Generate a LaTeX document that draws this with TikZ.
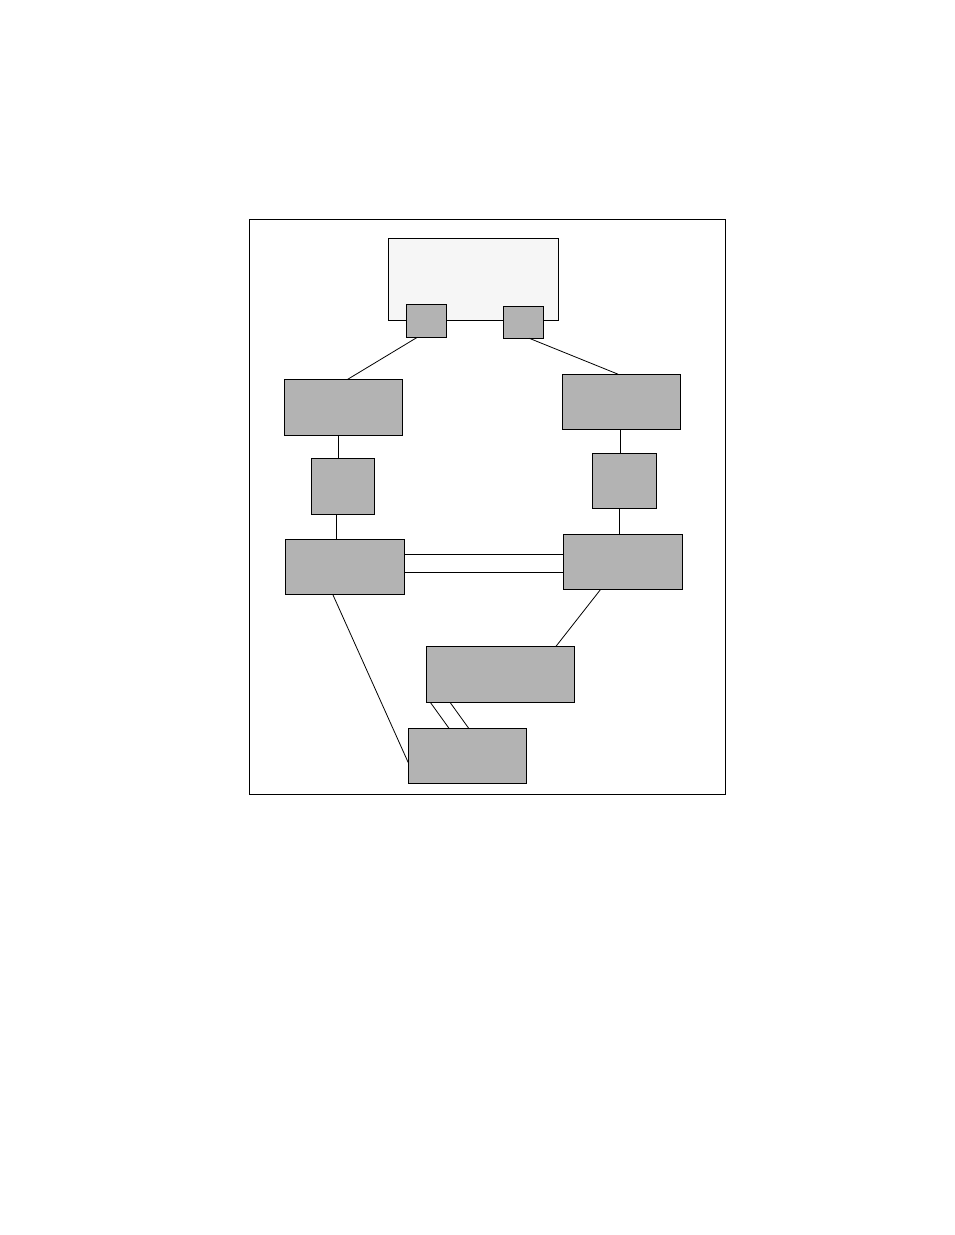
\documentclass[tikz,border=0pt]{standalone}
\usetikzlibrary{calc}
\definecolor{boxgray}{HTML}{B3B3B3}
\definecolor{lightbox}{HTML}{F6F6F6}
\tikzset{
  blk/.style={draw=black, line width=0.9pt, fill=boxgray, inner sep=0pt, outer sep=0pt, anchor=north west},
  hostbox/.style={draw=black, line width=0.9pt, fill=lightbox, inner sep=0pt, outer sep=0pt, anchor=north west},
  framebox/.style={draw=black, line width=0.9pt, inner sep=0pt, outer sep=0pt, anchor=north west},
  wire/.style={draw=black, line width=0.8pt}
}
\begin{document}
\begin{tikzpicture}[x=1pt,y=-1pt]
\useasboundingbox (0,0) rectangle (954,1235);
\node[framebox, minimum width=476pt, minimum height=575pt] (frame) at (249.3,219.3) {};
\node[hostbox, minimum width=170pt, minimum height=81.7pt] (host) at (388.3,238.3) {};
\node[blk, minimum width=40.4pt, minimum height=33pt] (sL) at (406.3,304.3) {};
\node[blk, minimum width=40.4pt, minimum height=32pt] (sR) at (503.3,306.3) {};
\node[blk, minimum width=118.4pt, minimum height=56pt] (A) at (284.3,379.3) {};
\node[blk, minimum width=118.4pt, minimum height=55pt] (B) at (562.3,374.3) {};
\node[blk, minimum width=63pt, minimum height=55.6pt] (C) at (311.3,458.7) {};
\node[blk, minimum width=64pt, minimum height=54.6pt] (D) at (592.3,453.7) {};
\node[blk, minimum width=119pt, minimum height=55pt] (E) at (285.3,539.3) {};
\node[blk, minimum width=119pt, minimum height=54.6pt] (F) at (563.3,534.7) {};
\node[blk, minimum width=148pt, minimum height=56pt] (G) at (426.3,646.3) {};
\node[blk, minimum width=118pt, minimum height=54.7pt] (H) at (408.3,728.3) {};
% connectors
\draw[wire] ([xshift=11pt]sL.south west) -- ([xshift=63.4pt]A.north west);
\draw[wire] ([xshift=26pt]sR.south west) -- ([xshift=56pt]B.north west);
\draw[wire] ([xshift=54pt]A.south west) -- ([xshift=27pt]C.north west);
\draw[wire] ([xshift=25.4pt]C.south west) -- ([xshift=51.4pt]E.north west);
\draw[wire] ([xshift=58.4pt]B.south west) -- ([xshift=28.4pt]D.north west);
\draw[wire] ([xshift=27.4pt]D.south west) -- ([xshift=56.4pt]F.north west);
\draw[wire] ([yshift=-15pt]E.north east) -- ([yshift=-15pt]E.north east -| F.west);
\draw[wire] ([yshift=-32.7pt]E.north east) -- ([yshift=-32.7pt]E.north east -| F.west);
\draw[wire] ([xshift=37.4pt]F.south west) -- ([xshift=129.7pt]G.north west);
\draw[wire] ([xshift=4pt]G.south west) -- ([xshift=40.7pt]H.north west);
\draw[wire] ([xshift=23.7pt]G.south west) -- ([xshift=60.4pt]H.north west);
\draw[wire] ([xshift=47.4pt]E.south west) -- ([yshift=-34.4pt]H.north west);
\end{tikzpicture}
\end{document}
